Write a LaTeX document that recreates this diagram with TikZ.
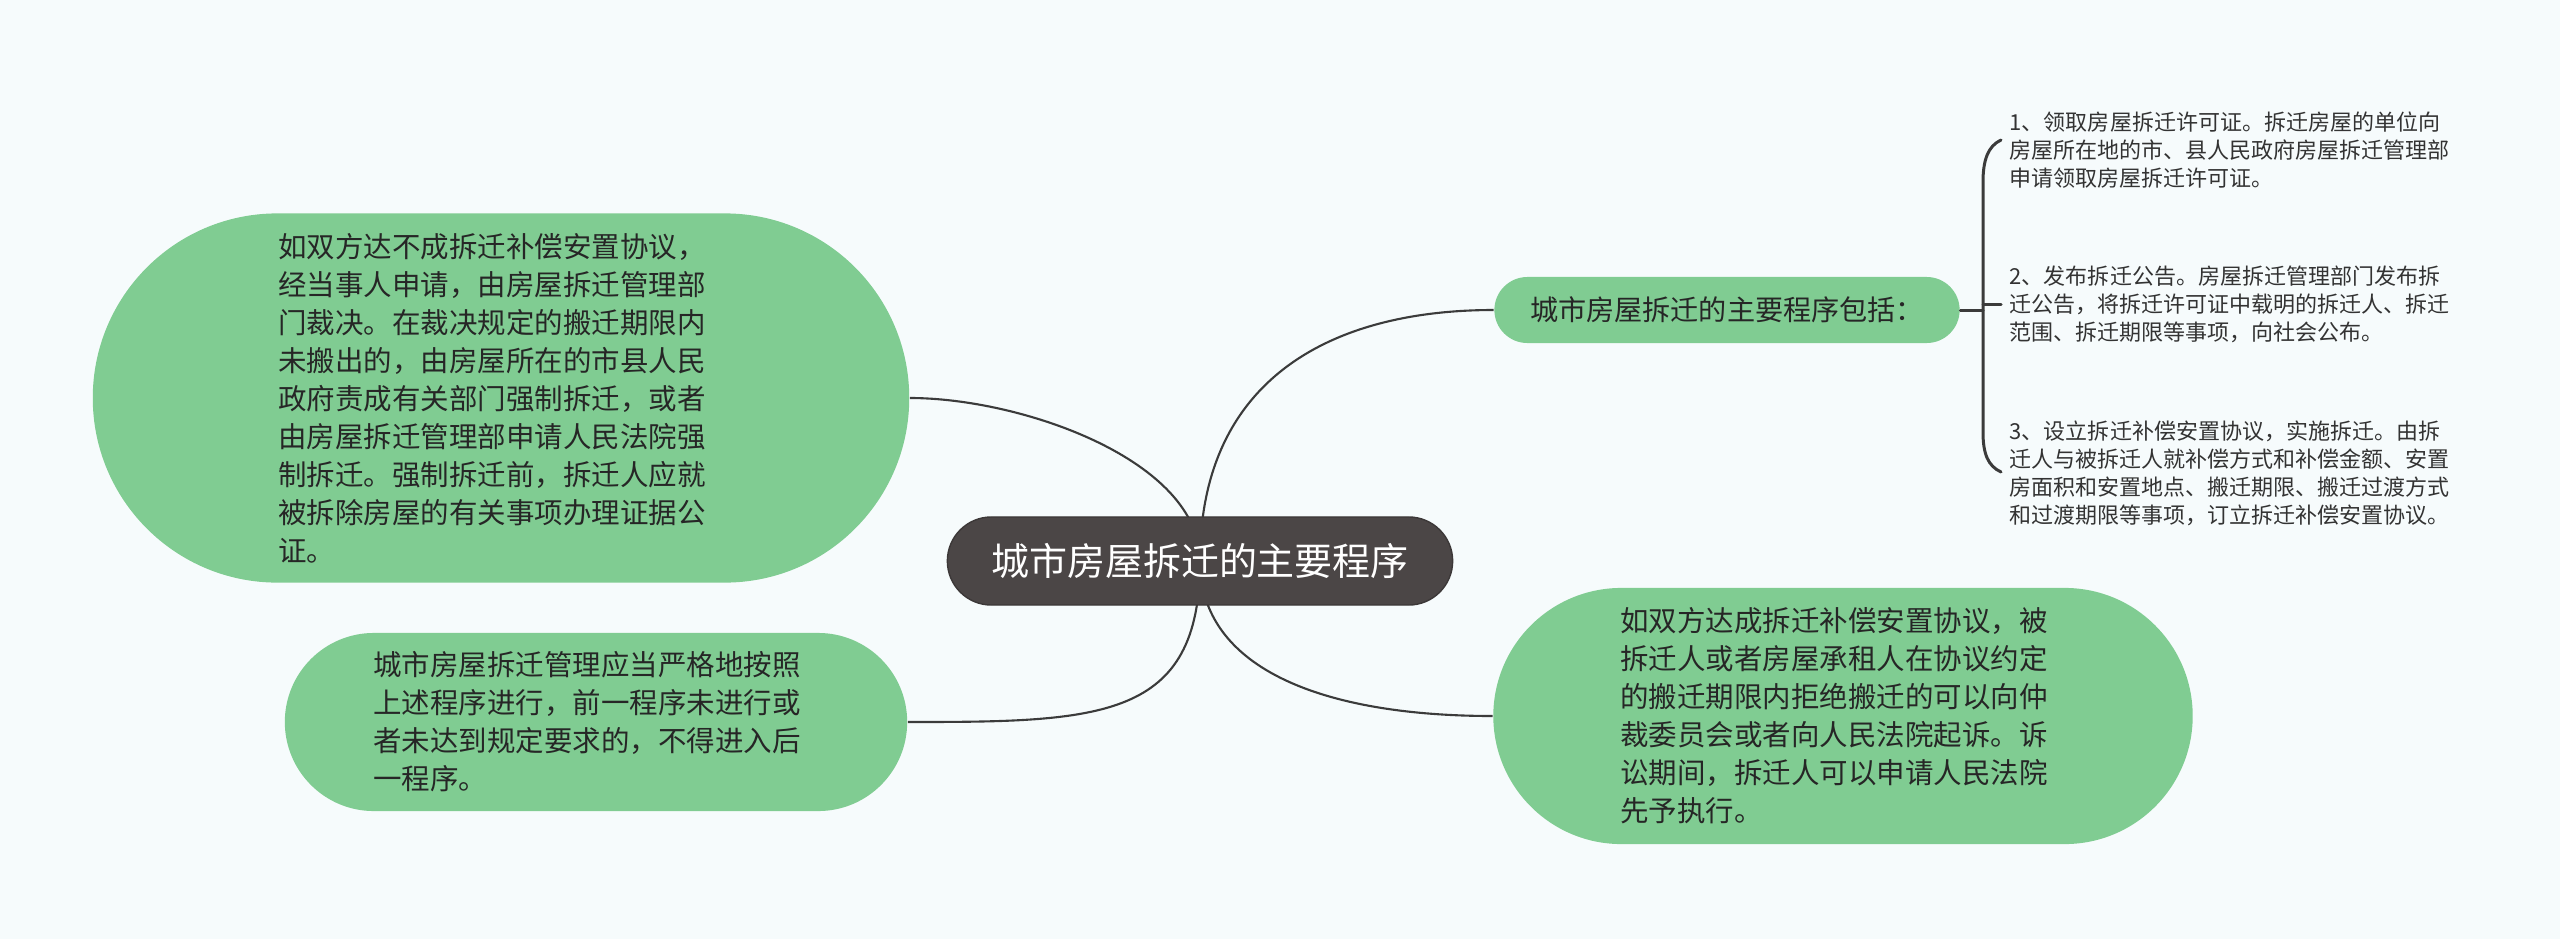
\documentclass[tikz,border=0pt]{standalone}
\usepackage{fontspec}
\usetikzlibrary{shapes.misc,backgrounds}
\newfontfamily\cjk{Noto Sans CJK SC}
\definecolor{mapbg}{HTML}{F6FBFC}
\definecolor{leafgreen}{HTML}{80CC92}
\definecolor{rootgray}{HTML}{4B4646}
\definecolor{linkgray}{HTML}{3B3B3B}

\begin{document}
\begin{tikzpicture}[x=0.01cm,y=-0.01cm]
  \tikzstyle{topic}=[rounded rectangle,fill=rootgray,draw=rootgray!80!black,line width=0.4pt,
    minimum width=5.05cm,minimum height=0.88cm,inner sep=0pt,text=white,
    font=\cjk\fontsize{10.8pt}{13pt}\selectfont]
  \tikzstyle{leaf}=[rounded rectangle,fill=leafgreen,inner sep=0pt,align=left,text=black!85,
    font=\cjk\fontsize{8.1pt}{10.8pt}\selectfont]
  \tikzstyle{note}=[leaf,text width=4.45cm]
  \tikzstyle{item}=[anchor=west,inner sep=0pt,align=left,text=black!80,
    font=\cjk\fontsize{6.26pt}{7.97pt}\selectfont]
  \tikzstyle{link}=[linkgray,line width=0.6pt]
  \tikzstyle{brace}=[linkgray,line width=0.85pt,line cap=round]

  \useasboundingbox (0,0) rectangle (2560,939);

  % -- Central topic --
  \node[topic] (root) at (1200,561) {城市房屋拆迁的主要程序};

  % -- Right: procedure and its three steps --
  \node[leaf,minimum width=4.65cm,minimum height=0.66cm,font=\cjk\fontsize{8pt}{10pt}\selectfont]
    (proc) at (1727,310) {城市房屋拆迁的主要程序包括：};
  \node[item] (s1) at (2009,150) {1、领取房屋拆迁许可证。拆迁房屋的单位向\\房屋所在地的市、县人民政府房屋拆迁管理部\\申请领取房屋拆迁许可证。};
  \node[item] (s2) at (2009,304) {2、发布拆迁公告。房屋拆迁管理部门发布拆\\迁公告，将拆迁许可证中载明的拆迁人、拆迁\\范围、拆迁期限等事项，向社会公布。};
  \node[item] (s3) at (2009,473) {3、设立拆迁补偿安置协议，实施拆迁。由拆\\迁人与被拆迁人就补偿方式和补偿金额、安置\\房面积和安置地点、搬迁期限、搬迁过渡方式\\和过渡期限等事项，订立拆迁补偿安置协议。};

  % -- Right: agreement reached --
  \node[note,minimum width=6.99cm,minimum height=2.56cm] (agree) at (1843,716)
    {如双方达成拆迁补偿安置协议，被\\拆迁人或者房屋承租人在协议约定\\的搬迁期限内拒绝搬迁的可以向仲\\裁委员会或者向人民法院起诉。诉\\讼期间，拆迁人可以申请人民法院\\先予执行。};

  % -- Left: no agreement --
  \node[note,minimum width=8.16cm,minimum height=3.69cm] (big) at (501,398)
    {如双方达不成拆迁补偿安置协议，\\经当事人申请，由房屋拆迁管理部\\门裁决。在裁决规定的搬迁期限内\\未搬出的，由房屋所在的市县人民\\政府责成有关部门强制拆迁，或者\\由房屋拆迁管理部申请人民法院强\\制拆迁。强制拆迁前，拆迁人应就\\被拆除房屋的有关事项办理证据公\\证。};

  % -- Left: strict order --
  \node[note,minimum width=6.22cm,minimum height=1.78cm] (rule) at (596,722)
    {城市房屋拆迁管理应当严格地按照\\上述程序进行，前一程序未进行或\\者未达到规定要求的，不得进入后\\一程序。};

  % -- Brace ends --
  \coordinate (bt) at (2001,140);
  \coordinate (bb) at (2001,472);
  \coordinate (bm) at (1983,310);

  % -- Links --
  \begin{scope}[on background layer]
    \fill[mapbg] (0,0) rectangle (2560,939);
    \draw[link] (root.center) .. controls +(0,-180) and +(-165,0) .. (proc.west);
    \draw[link] (root.center) .. controls +(0,110) and +(-165,0) .. (agree.west);
    \draw[link] (root.center) .. controls +(0,-101) and +(111,0) .. (big.east);
    \draw[link] (root.center) .. controls +(0,159) and +(193,0) .. (rule.east);
  \end{scope}
  \draw[brace] (bt) .. controls (1988,146) and (1983,160) .. (1983,182)
    -- (1983,432) .. controls (1983,454) and (1988,466) .. (bb);
  \draw[brace] (proc.east) -- (bm);
  \draw[brace] (bm |- s2.west) -- ([xshift=-0.08cm]s2.west);
\end{tikzpicture}
\end{document}
